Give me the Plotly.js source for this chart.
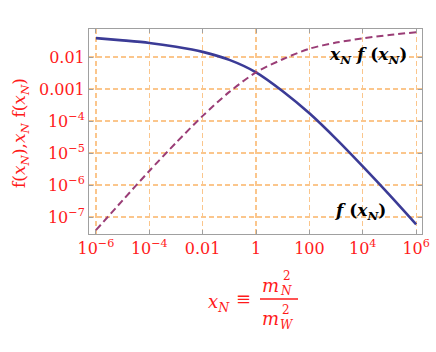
<!DOCTYPE html>
<html>
<head>
<meta charset="utf-8">
<script src="https://cdn.plot.ly/plotly-3.0.1.min.js"></script>
<style>
  html, body { margin: 0; padding: 0; background: #fff; }
  #chart { width: 436px; height: 352px; }
</style>
</head>
<body>
<div id="chart"></div>
<script>
// values, one point per decade
const xN = [1e-6, 1e-5, 1e-4, 1e-3, 1e-2, 1e-1, 1, 1e1, 1e2, 1e3, 1e4, 1e5, 1e6];
// log10 f(x_N)
const logF = [-1.41, -1.48, -1.56, -1.68, -1.84, -2.09, -2.48, -3.07, -3.76, -4.56, -5.42, -6.31, -7.23];
// log10 x_N f(x_N)
const logXF = [-7.41, -6.48, -5.56, -4.68, -3.84, -3.09, -2.48, -2.07, -1.74, -1.55, -1.42, -1.31, -1.23];

const xTickVals = [1e-6, 1e-4, 1e-2, 1, 1e2, 1e4, 1e6];
const xTickText = ['10<sup>\u22126</sup>', '10<sup>\u22124</sup>', '0.01', '1', '100', '10<sup>4</sup>', '10<sup>6</sup>'];
const yTickVals = [1e-2, 1e-3, 1e-4, 1e-5, 1e-6, 1e-7];
const yTickText = ['0.01', '0.001', '10<sup>\u22124</sup>', '10<sup>\u22125</sup>', '10<sup>\u22126</sup>', '10<sup>\u22127</sup>'];

const red = '#ff1a1a';
// only one family name: a list is not picked up here
const serif = 'DejaVu Serif';

// plot box in pixels
const L = 89, R = 422, T = 29, B = 234;
const px = x => (x - L) / (R - L);
const py = y => (B - y) / (B - T);

const traces = [
  {
    x: xN, y: logF.map(v => Math.pow(10, v)),
    type: 'scatter', mode: 'lines',
    line: { color: '#3b3b96', width: 2.6, shape: 'spline', smoothing: 0.8 },
    hoverinfo: 'skip'
  },
  {
    x: xN, y: logXF.map(v => Math.pow(10, v)),
    type: 'scatter', mode: 'lines',
    line: { color: '#9a3d76', width: 2, dash: '7px,4px', shape: 'spline', smoothing: 0.8 },
    hoverinfo: 'skip'
  }
];

const axisCommon = () => ({
  type: 'log',
  showline: true, linecolor: '#a0a0a0', linewidth: 1, mirror: 'allticks',
  ticks: 'inside', ticklen: 4, tickcolor: '#a0a0a0',
  showgrid: true, gridcolor: '#fbc68c', griddash: '5px,3px', gridwidth: 1.2,
  zeroline: false,
  tickfont: { family: serif, size: 16, color: red },
  tickmode: 'array'
});

const ann = (text, x, y, size, color) => ({
  text: text, xref: 'paper', yref: 'paper', x: px(x), y: py(y),
  xanchor: 'center', yanchor: 'middle', showarrow: false,
  font: { family: serif, size: size, color: color || red }
});

const yTitle = ann('f(<i>x</i><sub><i>N</i></sub>),<i>x</i><sub><i>N</i></sub> f(<i>x</i><sub><i>N</i></sub>)', 20, 133, 17);
yTitle.textangle = -90;

const layout = {
  width: 436, height: 352,
  margin: { l: L, r: 436 - R, t: T, b: 352 - B },
  paper_bgcolor: '#fff', plot_bgcolor: '#fff',
  showlegend: false,
  font: { family: serif },
  xaxis: Object.assign(axisCommon(), {
    range: [-6.26, 6.22],
    tickvals: xTickVals, ticktext: xTickText
  }),
  yaxis: Object.assign(axisCommon(), {
    range: [-7.53, -1.125],
    tickvals: yTickVals, ticktext: yTickText
  }),
  annotations: [
    yTitle,
    // x axis title: x_N = m_N^2 / m_W^2
    ann('<i>x</i><sub><i>N</i></sub>', 219, 303, 18),
    ann('\u2261', 243, 298, 18),
    ann('<i>m</i>', 270, 285, 18),
    ann('2', 287, 276, 12),
    ann('<i>N</i>', 286, 291, 12),
    ann('<i>m</i>', 270, 318, 18),
    ann('2', 286, 310, 12),
    ann('<i>W</i>', 287, 325, 12),
    // curve labels
    ann('<b><i>x</i><sub><i>N</i></sub> <i>f</i> (<i>x</i><sub><i>N</i></sub>)</b>', 368, 55, 17, '#000'),
    ann('<b><i>f</i> (<i>x</i><sub><i>N</i></sub>)</b>', 360, 211, 17, '#000')
  ],
  shapes: [
    { type: 'line', xref: 'paper', yref: 'paper', x0: px(260), x1: px(298), y0: py(299), y1: py(299),
      line: { color: red, width: 1.3 } }
  ]
};

Plotly.newPlot('chart', traces, layout, { displayModeBar: false, staticPlot: true });
</script>
</body>
</html>
